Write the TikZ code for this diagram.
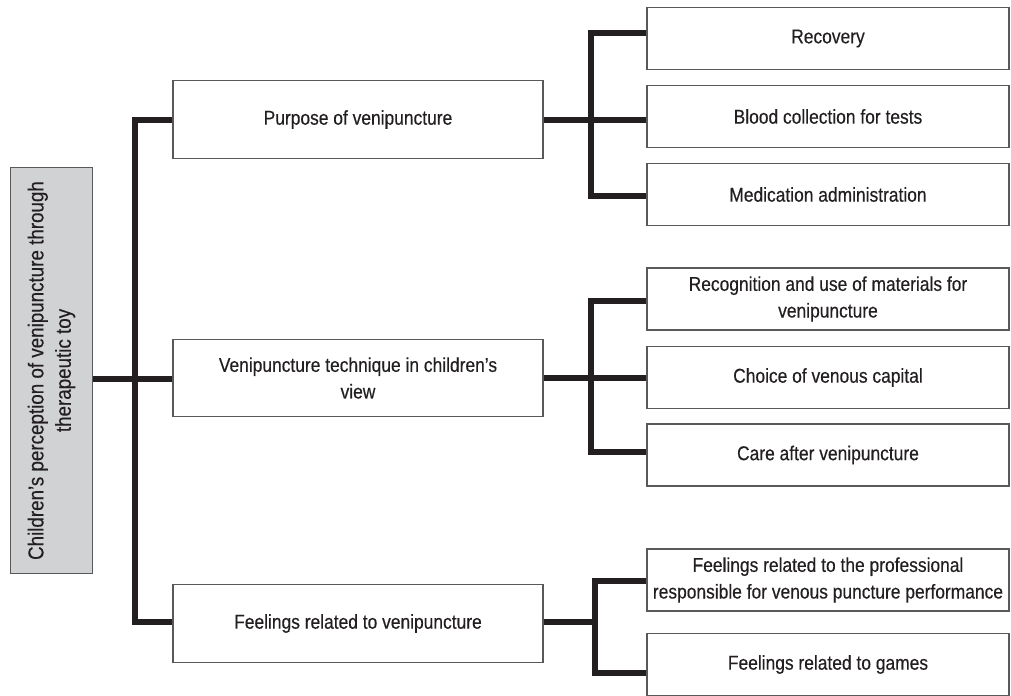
\documentclass[tikz,border=0pt]{standalone}
\usepackage{fontspec}
\setmainfont{Liberation Sans}[FakeStretch=0.87, FakeBold=0.35]
\usetikzlibrary{positioning, calc}

\definecolor{inkdark}{HTML}{231F20}
\definecolor{rootgray}{HTML}{D1D2D4}

\tikzset{
  box/.style={draw=black!65, line width=0.9pt, rectangle, align=center,
    text=inkdark, font=\fontsize{15}{20}\selectfont, inner sep=2pt},
  leafbox/.style={box, minimum width=271.5pt, minimum height=46.5pt},
  midbox/.style={box, minimum width=277.5pt, minimum height=58pt},
  rootbox/.style={box, fill=rootgray, rotate=90, minimum width=304pt, minimum height=62pt,
    font=\fontsize{16.2}{20.5}\selectfont},
  link/.style={draw=inkdark, line width=5pt},
}

\begin{document}
\begin{tikzpicture}[x=0.75pt, y=-0.75pt]
  \useasboundingbox (0,0) rectangle (1011,696);

  % root
  \node[rootbox] (root) at (51.5,370.5) {Children's perception of venipuncture through\\therapeutic toy};

  % categories
  \node[midbox] (purpose) at (358,119.5) {Purpose of venipuncture};
  \node[midbox] (technique) at (358,378) {Venipuncture technique in children's\\view};
  \node[midbox] (feelings) at (358,623.5) {Feelings related to venipuncture};

  % subcategories
  \node[leafbox] (recovery) at (828,38.5) {Recovery};
  \node[leafbox] (blood) at (828,116.5) {Blood collection for tests};
  \node[leafbox] (medication) at (828,194.5) {Medication administration};
  \node[leafbox] (materials) at (828,299) {Recognition and use of materials for\\venipuncture};
  \node[leafbox] (capital) at (828,377.5) {Choice of venous capital};
  \node[leafbox] (care) at (828,455) {Care after venipuncture};
  \node[leafbox] (professional) at (828,580) {Feelings related to the professional\\responsible for venous puncture performance};
  \node[leafbox] (games) at (828,664.5) {Feelings related to games};

  % junctions
  \coordinate (j0) at (135,379);
  \coordinate (j1) at (591,120);
  \coordinate (j2) at (591,378);
  \coordinate (j3) at (595,622);

  \draw[link] (root.south |- j0) -- (technique.west |- j0);
  \draw[link] (purpose.west |- j1) -| (j0) |- (feelings.west |- j3);

  \draw[link] (purpose.east |- j1) -- (j1);
  \draw[link] (recovery.west |- 0,33) -| (j1) |- (medication.west |- 0,196);
  \draw[link] (j1) -- (blood.west |- j1);

  \draw[link] (technique.east) -- (capital.west |- technique.east);
  \draw[link] (materials.west |- 0,301) -| (j2) |- (care.west |- 0,452);

  \draw[link] (feelings.east |- j3) -- (j3);
  \draw[link] (professional.west |- 0,581) -| (j3) |- (games.west |- 0,673);
\end{tikzpicture}
\end{document}
